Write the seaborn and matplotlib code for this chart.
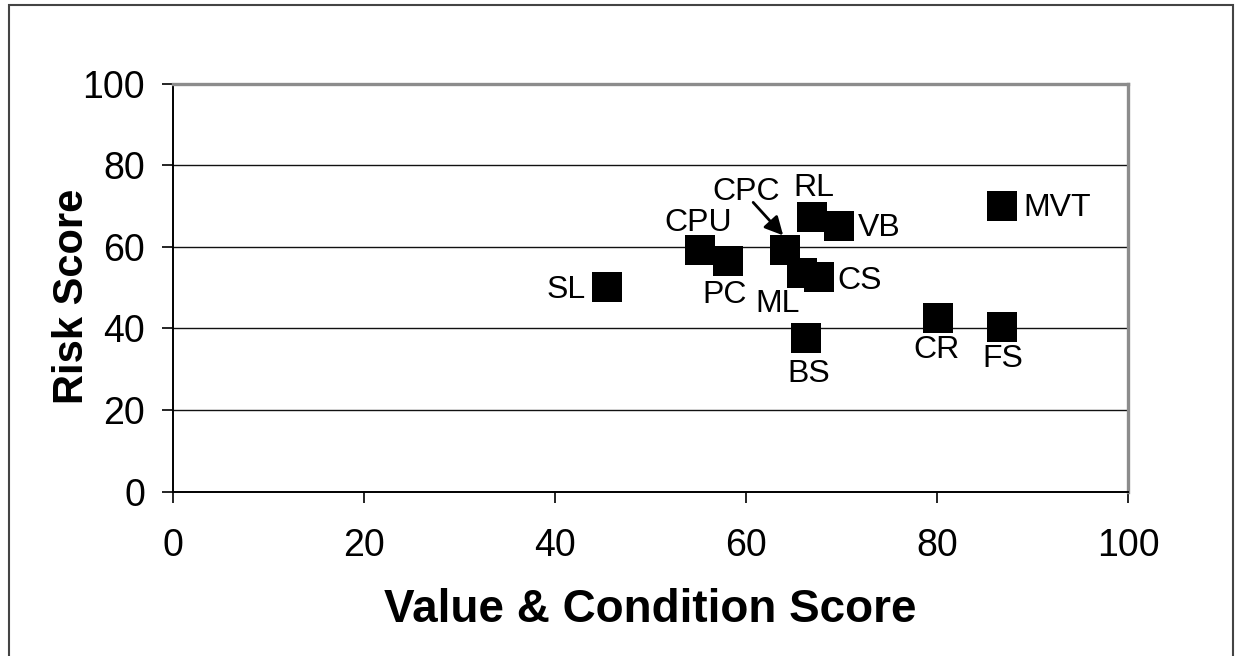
import matplotlib.pyplot as plt
import matplotlib.patches as patches
from matplotlib.transforms import offset_copy
import pandas as pd
import seaborn as sns

# asset codes with their scores
codes = ["SL", "CPU", "PC", "CPC", "ML", "CS", "RL", "VB", "BS", "CR", "FS", "MVT"]
value_condition = [45.4, 55.2, 58.1, 64.1, 65.9, 67.6, 66.9, 69.7, 66.3, 80.1, 86.8, 86.8]
risk = [50.1, 59.1, 56.5, 59.1, 53.6, 52.5, 67.4, 65.0, 37.7, 42.6, 40.2, 69.9]

x_ticks = [0, 20, 40, 60, 80, 100]
y_ticks = [0, 20, 40, 60, 80, 100]

# label offset from the square centre in pixels (dx right, dy down) and alignment
label_place = {
    "SL": (-21, 11, "right"),
    "CPU": (-2, -19, "center"),
    "PC": (-3, 42, "center"),
    "CPC": (-39, -50, "center"),
    "ML": (-25, 39, "center"),
    "CS": (19, 12, "left"),
    "RL": (2, -21, "center"),
    "VB": (19, 10, "left"),
    "BS": (3, 44, "center"),
    "CR": (-1, 40, "center"),
    "FS": (1, 40, "center"),
    "MVT": (21, 10, "left"),
}

df = pd.DataFrame({"code": codes, "vc": value_condition, "risk": risk})

sns.set_style("white")
plt.rcParams['font.family'] = ['Liberation Sans', 'DejaVu Sans']

fig = plt.figure(figsize=(12.41, 6.56), dpi=100)
W, H = 1241, 656
ax = fig.add_axes([173 / W, (H - 491.5) / H, 955 / W, 408 / H])

sns.scatterplot(data=df, x="vc", y="risk", marker="s", s=466, color="black",
                linewidth=0, ax=ax, zorder=3)

ax.set_xlim(0, 100)
ax.set_ylim(0, 100)
ax.set_xticks(x_ticks)
ax.set_yticks(y_ticks)
ax.tick_params(axis="x", direction="out", length=8, width=1.2, pad=18,
               labelsize=27, colors="black", bottom=True)
ax.tick_params(axis="y", direction="out", length=8, width=1.2, pad=12,
               labelsize=27, colors="black", left=True)

ax.yaxis.grid(True, color="#111111", linewidth=1.0)
ax.xaxis.grid(False)
ax.set_axisbelow(True)

for side in ["left", "bottom"]:
    ax.spines[side].set_color("black")
    ax.spines[side].set_linewidth(1.4)
for side in ["top", "right"]:
    ax.spines[side].set_color("#8c8c8c")
    ax.spines[side].set_linewidth(2.4)

ax.set_xlabel("Value & Condition Score", fontsize=33, fontweight="bold", color="black")
ax.set_ylabel("Risk Score", fontsize=30, fontweight="bold", color="black")
ax.xaxis.label.set_va("baseline")
ax.xaxis.set_label_coords(0.5, (491.5 - 622) / 408)
ax.yaxis.label.set_va("baseline")
ax.yaxis.set_label_coords((83 - 173) / 955, (491.5 - 296) / 408)

for code, xv, yv in zip(codes, value_condition, risk):
    dx, dy, ha = label_place[code]
    ax.annotate(code, xy=(xv, yv), xytext=(dx, -dy), textcoords="offset pixels",
                ha=ha, va="baseline", fontsize=23, color="black")

# pointer from the CPC label down to its square
i = codes.index("CPC")
head = offset_copy(ax.transData, fig=fig, x=-2, y=15, units="dots")
tail = offset_copy(ax.transData, fig=fig, x=-32, y=48, units="dots")
ax.annotate("", xy=(value_condition[i], risk[i]), xycoords=head,
            xytext=(value_condition[i], risk[i]), textcoords=tail,
            arrowprops=dict(arrowstyle="-|>,head_length=0.55,head_width=0.28",
                            mutation_scale=20, color="black", lw=2,
                            shrinkA=0, shrinkB=0))

# outer frame around the whole chart
frame = patches.Rectangle((9 / W, -0.05), (1233 - 9) / W, 1.05 - 5 / H,
                          transform=fig.transFigure, fill=False,
                          edgecolor="#444444", linewidth=1.5, clip_on=False)
fig.add_artist(frame)

fig.savefig("out.png", dpi=100)
